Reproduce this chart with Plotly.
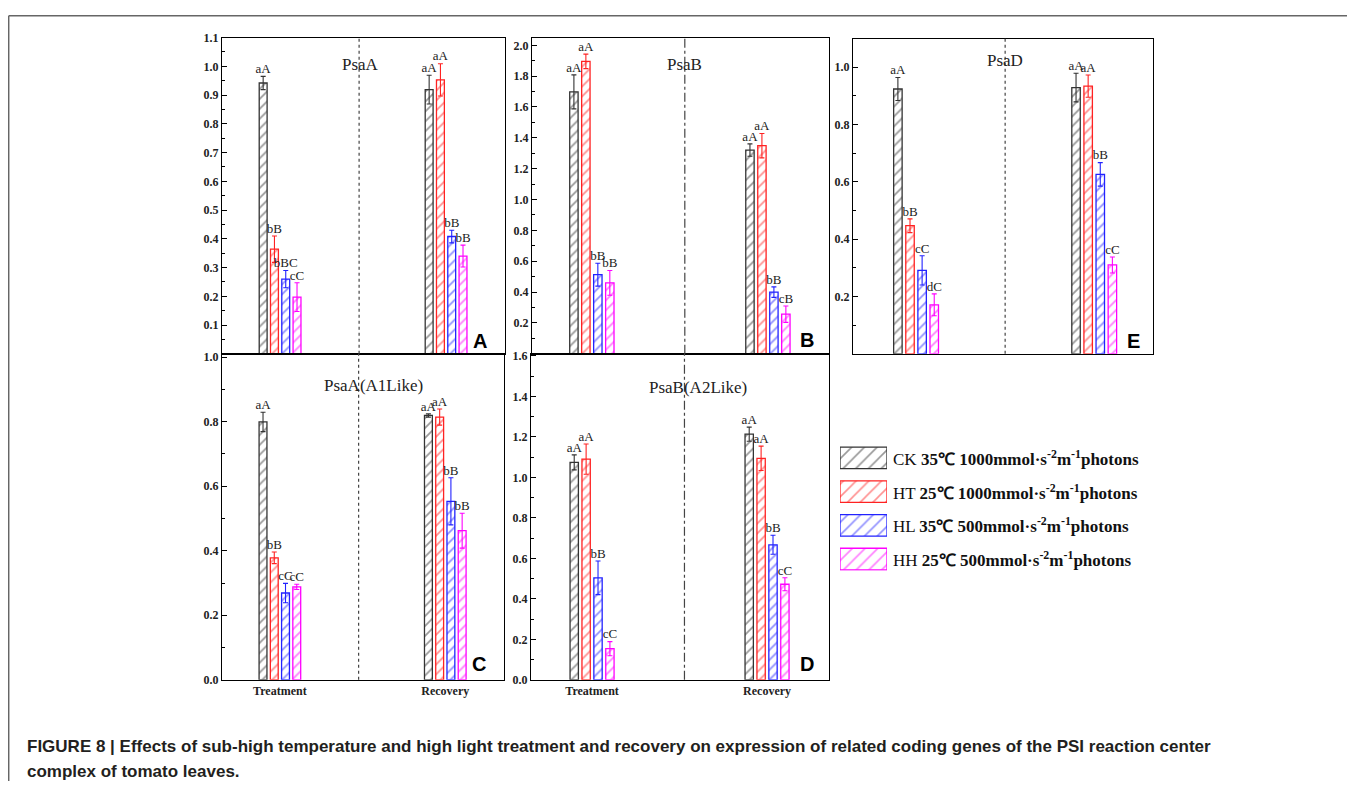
import plotly.graph_objects as go

# page body adds an 8px margin, so the figure is sized to fit inside it
OX, OY = 8, 8
W, H = 1355 - 2 * OX, 796 - 2 * OY

# ---------------- data ----------------
groups = ["Treatment", "Recovery"]
series = ["CK", "HT", "HL", "HH"]
colors = ["#333333", "#ff2222", "#2222ff", "#ff00ff"]
legend_temp = ["35℃", "25℃", "35℃", "25℃"]
legend_light = ["1000", "1000", "500", "500"]

# PsaA (panel A)
psaA_mean = [[0.942, 0.919], [0.364, 0.953], [0.260, 0.408], [0.197, 0.340]]
psaA_err = [[0.023, 0.050], [0.046, 0.056], [0.030, 0.022], [0.050, 0.038]]
psaA_lab = [["aA", "aA"], ["bB", "aA"], ["bBC", "bB"], ["cC", "bB"]]

# PsaB (panel B)
psaB_mean = [[1.698, 1.321], [1.896, 1.349], [0.513, 0.400], [0.460, 0.257]]
psaB_err = [[0.110, 0.040], [0.047, 0.079], [0.074, 0.034], [0.080, 0.053]]
psaB_lab = [["aA", "aA"], ["aA", "aA"], ["bB", "bB"], ["bB", "cB"]]

# PsaD (panel E)
psaD_mean = [[0.924, 0.929], [0.447, 0.934], [0.291, 0.626], [0.171, 0.310]]
psaD_err = [[0.040, 0.050], [0.024, 0.039], [0.051, 0.041], [0.038, 0.028]]
psaD_lab = [["aA", "aA"], ["bB", "aA"], ["cC", "bB"], ["dC", "cC"]]

# PsaA(A1Like) (panel C)
a1_mean = [[0.799, 0.819], [0.378, 0.814], [0.269, 0.553], [0.288, 0.462]]
a1_err = [[0.030, 0.005], [0.018, 0.025], [0.030, 0.073], [0.008, 0.054]]
a1_lab = [["aA", "aA"], ["bB", "aA"], ["cC", "bB"], ["cC", "bB"]]

# PsaB(A2Like) (panel D)
a2_mean = [[1.074, 1.213], [1.090, 1.094], [0.504, 0.667], [0.154, 0.472]]
a2_err = [[0.037, 0.035], [0.075, 0.060], [0.083, 0.047], [0.035, 0.032]]
a2_lab = [["aA", "aA"], ["aA", "aA"], ["bB", "bB"], ["cC", "cC"]]

tick_A = [0.1, 0.2, 0.3, 0.4, 0.5, 0.6, 0.7, 0.8, 0.9, 1.0, 1.1]
tick_B = [0.2, 0.4, 0.6, 0.8, 1.0, 1.2, 1.4, 1.6, 1.8, 2.0]
tick_E = [0.2, 0.4, 0.6, 0.8, 1.0]
tick_C = [0.0, 0.2, 0.4, 0.6, 0.8, 1.0]
tick_D = [0.0, 0.2, 0.4, 0.6, 0.8, 1.0, 1.2, 1.4, 1.6]

caption1 = ("FIGURE 8 | Effects of sub-high temperature and high light treatment and recovery on "
            "expression of related coding genes of the PSI reaction center")
caption2 = "complex of tomato leaves."

# ---------------- layout helpers (reference pixel -> paper) ----------------
def fx(p):
    return (p - OX) / W

def fy(p):
    return 1 - (p - OY) / H

panels = [
    dict(title="PsaA", mean=psaA_mean, err=psaA_err, lab=psaA_lab, ticks=tick_A, minor=0.05,
         yr=[0, 1.1], xpx=(222, 505), ypx=(31, 353), xr=[-0.35, 1.355], div=0.476, dash="dot",
         letter="A", tpos=(361, 58), lpos=(480, 340), xlab=False),
    dict(title="PsaB", mean=psaB_mean, err=psaB_err, lab=psaB_lab, ticks=tick_B, minor=0.1,
         yr=[0, 2.05], xpx=(532, 829), ypx=(31, 353), xr=[-0.34, 1.347], div=0.528, dash="dashdot",
         letter="B", tpos=(684, 58), lpos=(807, 339), xlab=False),
    dict(title="PsaD", mean=psaD_mean, err=psaD_err, lab=psaD_lab, ticks=tick_E, minor=0.1,
         yr=[0, 1.1], xpx=(853, 1153), ypx=(32, 353), xr=[-0.354, 1.33], div=0.5, dash="dot",
         letter="E", tpos=(1005, 54), lpos=(1133, 340), xlab=False),
    dict(title="PsaA(A1Like)", mean=a1_mean, err=a1_err, lab=a1_lab, ticks=tick_C, minor=0.1,
         yr=[0, 1.01], xpx=(222, 504), ypx=(353, 685), xr=[-0.35, 1.355], div=0.476, dash="dot",
         letter="C", tpos=(373, 385), lpos=(479, 669), xlab=True),
    dict(title="PsaB(A2Like)", mean=a2_mean, err=a2_err, lab=a2_lab, ticks=tick_D, minor=0.1,
         yr=[0, 1.61], xpx=(531, 829), ypx=(353, 685), xr=[-0.349, 1.354], div=0.528, dash="dashdot",
         letter="D", tpos=(698, 387), lpos=(807, 669), xlab=True),
]

serif = "Liberation Serif, Times New Roman, serif"
sans = "Liberation Sans, Arial, sans-serif"

fig = go.Figure()
layout = {}
shapes = []
annotations = []

for i, P in enumerate(panels):
    n = i + 1
    xa = "x" if n == 1 else f"x{n}"
    ya = "y" if n == 1 else f"y{n}"
    for k, s in enumerate(series):
        fig.add_trace(go.Bar(
            x=groups, y=P["mean"][k], name=s, xaxis=xa, yaxis=ya, showlegend=False,
            marker=dict(color="white", line=dict(color=colors[k], width=1.3),
                        pattern=dict(shape="/", fgcolor=colors[k], bgcolor="white",
                                     size=7, solidity=0.25)),
            error_y=dict(type="data", array=P["err"][k], color=colors[k], thickness=1.1, width=2.5),
            hoverinfo="skip"))
    for k, s in enumerate(series):
        tops = [m + e for m, e in zip(P["mean"][k], P["err"][k])]
        fig.add_trace(go.Scatter(
            x=groups, y=tops, text=P["lab"][k], mode="text", textposition="top center",
            textfont=dict(family=serif, size=13, color="#222"),
            xaxis=xa, yaxis=ya, showlegend=False, hoverinfo="skip", cliponaxis=False))
    keyx = "xaxis" if n == 1 else f"xaxis{n}"
    keyy = "yaxis" if n == 1 else f"yaxis{n}"
    layout[keyx] = dict(
        domain=[fx(P["xpx"][0]), fx(P["xpx"][1])], range=P["xr"], anchor=ya,
        type="category", showline=True, linecolor="black", linewidth=1.3, mirror=True,
        ticks="", showticklabels=P["xlab"], showgrid=False, zeroline=False,
        tickfont=dict(family=serif, size=12, color="#222", weight="bold"))
    layout[keyy] = dict(
        domain=[fy(P["ypx"][1]), fy(P["ypx"][0])], range=P["yr"], anchor=xa,
        showline=True, linecolor="black", linewidth=1.3, mirror=True,
        ticks="inside", ticklen=5, tickwidth=1.3, tickcolor="black",
        tickmode="array", tickvals=P["ticks"], tickformat=".1f",
        minor=dict(ticks="inside", ticklen=3, tickwidth=1, tickcolor="black",
                   tickmode="linear", tick0=0, dtick=P["minor"]),
        showgrid=False, zeroline=False,
        tickfont=dict(family=serif, size=12, color="#222", weight="bold"))
    shapes.append(dict(type="line", xref=xa, yref=f"{ya} domain", x0=P["div"], x1=P["div"],
                       y0=0, y1=1, line=dict(color="#444", width=1.2, dash=P["dash"])))
    annotations.append(dict(text=P["title"], xref="paper", yref="paper",
                            x=fx(P["tpos"][0]), y=fy(P["tpos"][1]), showarrow=False,
                            xanchor="center", yanchor="middle",
                            font=dict(family=serif, size=17, color="#222")))
    annotations.append(dict(text=P["letter"], xref="paper", yref="paper",
                            x=fx(P["lpos"][0]), y=fy(P["lpos"][1]), showarrow=False,
                            xanchor="center", yanchor="middle",
                            font=dict(family=sans, size=20, color="black", weight="bold")))

# legend as its own small axis of hatched patches
for k, s in enumerate(series):
    fig.add_trace(go.Bar(
        x=[1], y=[k], orientation="h", xaxis="x6", yaxis="y6", showlegend=False,
        offsetgroup="legend", width=0.64, hoverinfo="skip",
        marker=dict(color="white", line=dict(color=colors[k], width=1.3),
                    pattern=dict(shape="/", fgcolor=colors[k], bgcolor="white",
                                 size=9, solidity=0.18))))
    annotations.append(dict(
        text=f"{s} <b>{legend_temp[k]} {legend_light[k]}mmol·s<sup>-2</sup>m<sup>-1</sup>photons</b>",
        xref="paper", yref="y6", x=fx(891), y=k, xanchor="left", yanchor="middle",
        showarrow=False, font=dict(family=serif, size=17, color="#111")))

layout["xaxis6"] = dict(domain=[fx(840), fx(887)], range=[0, 1], anchor="y6", visible=False)
layout["yaxis6"] = dict(domain=[fy(574), fy(447)], range=[3.35, -0.35], anchor="x6", visible=False)

# caption
annotations.append(dict(text=caption1, xref="paper", yref="paper", x=fx(25), y=fy(753),
                        xanchor="left", yanchor="middle", showarrow=False,
                        font=dict(family=sans, size=17, color="#231f20", weight="bold")))
annotations.append(dict(text=caption2, xref="paper", yref="paper", x=fx(25), y=fy(778),
                        xanchor="left", yanchor="middle", showarrow=False,
                        font=dict(family=sans, size=17, color="#231f20", weight="bold")))

# outer frame
shapes.append(dict(type="line", xref="paper", yref="paper", x0=fx(8.7), x1=1, y0=fy(8.7), y1=fy(8.7),
                   line=dict(color="#666", width=1.5)))
shapes.append(dict(type="line", xref="paper", yref="paper", x0=fx(8.7), x1=fx(8.7), y0=0, y1=fy(8.7),
                   line=dict(color="#666", width=1.5)))

fig.update_layout(
    width=W, height=H, margin=dict(l=0, r=0, t=0, b=0),
    paper_bgcolor="white", plot_bgcolor="white",
    barmode="group", bargap=0.728, bargroupgap=0.3,
    scattermode="group", scattergap=0.728,
    shapes=shapes, annotations=annotations, showlegend=False,
    **layout)

fig.write_html("out.html")
